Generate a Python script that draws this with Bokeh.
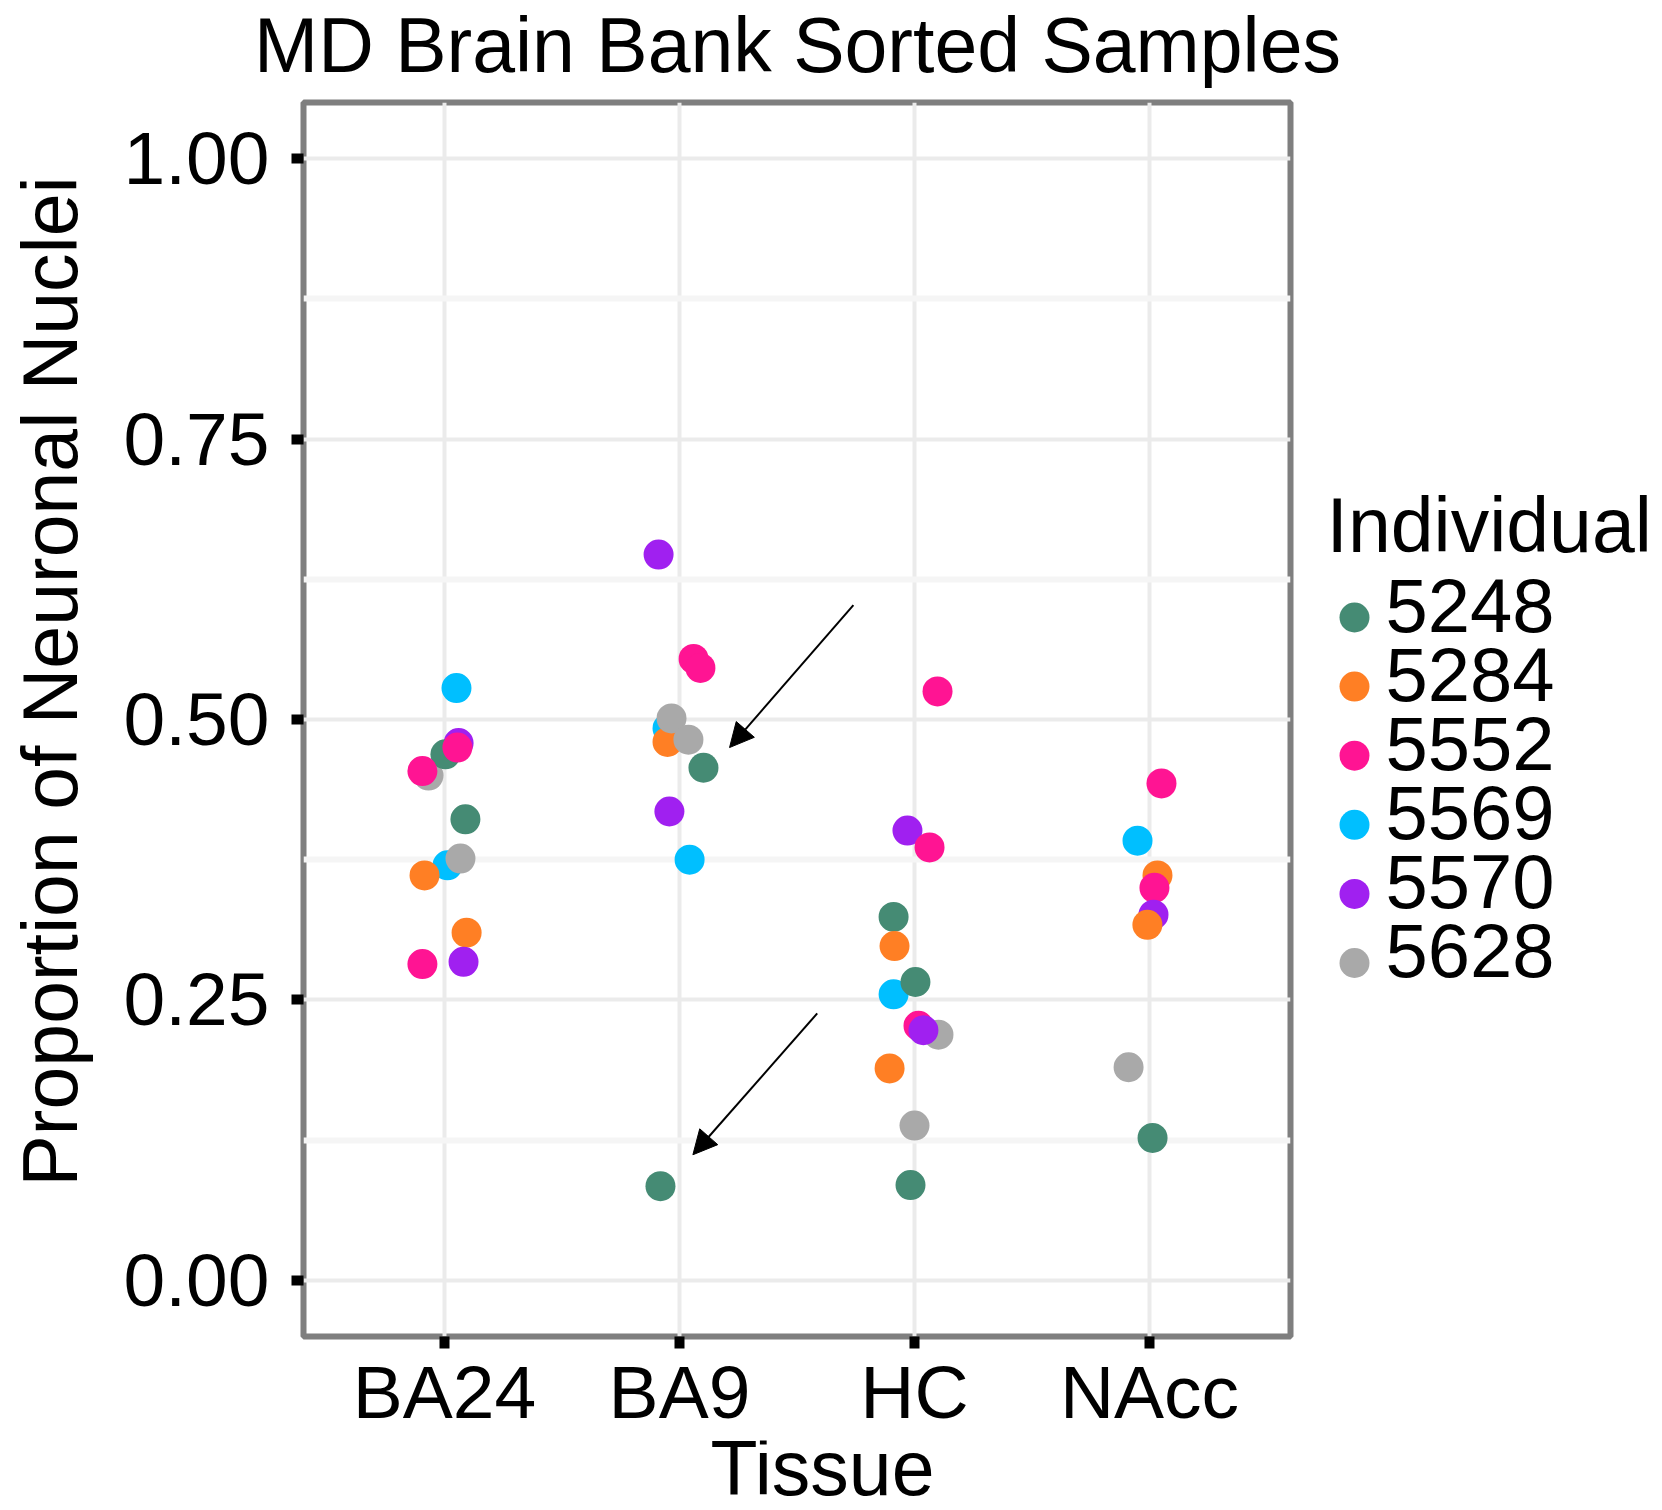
import math
from bokeh.plotting import figure
from bokeh.layouts import row, column
from bokeh.models import (Range1d, FixedTicker, NumeralTickFormatter, Arrow, NormalHead, ColumnDataSource)
from bokeh.core.properties import value
from bokeh.embed import file_html
from bokeh.resources import INLINE

# ---------------- data ----------------
tissues = ["BA24", "BA9", "HC", "NAcc"]
individuals = ["5248", "5284", "5552", "5569", "5570", "5628"]
individual_colors = ["#458B74", "#FF7F24", "#FF1493", "#00BFFF", "#A020F0", "#A9A9A9"]

point_tissue = (["BA24"] * 13 + ["BA9"] * 11 + ["HC"] * 13 + ["NAcc"] * 8)
point_individual = [
    # BA24
    "5569", "5628", "5570", "5248", "5552", "5552", "5248", "5569", "5628", "5284", "5284", "5552", "5570",
    # BA9
    "5570", "5552", "5552", "5569", "5284", "5628", "5628", "5248", "5570", "5569", "5248",
    # HC
    "5552", "5570", "5552", "5248", "5284", "5569", "5248", "5628", "5552", "5570", "5284", "5628", "5248",
    # NAcc
    "5552", "5569", "5284", "5552", "5570", "5284", "5628", "5248",
]
proportion = [
    0.528, 0.450, 0.479, 0.469, 0.475, 0.454, 0.411, 0.370, 0.376, 0.361, 0.310, 0.282, 0.284,
    0.647, 0.554, 0.546, 0.492, 0.480, 0.501, 0.482, 0.457, 0.418, 0.375, 0.084,
    0.525, 0.401, 0.386, 0.324, 0.298, 0.255, 0.266, 0.219, 0.227, 0.223, 0.189, 0.138, 0.085,
    0.443, 0.392, 0.361, 0.350, 0.326, 0.317, 0.190, 0.127,
]
jitter = [
    0.051, -0.068, 0.060, 0.004, 0.055, -0.094, 0.089, 0.013, 0.068, -0.085, 0.094, -0.094, 0.081,
    -0.089, 0.060, 0.089, -0.051, -0.051, -0.034, 0.038, 0.102, -0.043, 0.043, -0.081,
    0.098, -0.030, 0.064, -0.089, -0.085, -0.089, 0.004, 0.102, 0.017, 0.038, -0.106, 0.000, -0.017,
    0.051, -0.051, 0.034, 0.021, 0.017, -0.009, -0.089, 0.013,
]

# annotation arrows (tissue-axis units, proportion units)
arrow_x_start = [2.740, 2.586]
arrow_y_start = [0.602, 0.238]
arrow_x_end = [2.213, 2.057]
arrow_y_end = [0.475, 0.112]

y_ticks = [0.0, 0.25, 0.5, 0.75, 1.0]
y_minor = [0.125, 0.375, 0.625, 0.875]

title_text = "MD Brain Bank Sorted Samples"
x_title = "Tissue"
y_title = "Proportion of Neuronal Nuclei"
legend_title = "Individual"

# ---------------- build ----------------
FONT = "Liberation Sans"
W, H = 1662, 1510
LEFT_W, MAIN_W, LEG_W = 110, 1185, 367
TOP_H, MAIN_H, BOT_H = 97, 1343, 70
BORDER_T, BORDER_B = 5, 104                    # main plot borders
FRAME_TOP = TOP_H + BORDER_T                   # page row of the panel top
FRAME_BOT = TOP_H + MAIN_H - BORDER_B          # page row of the panel bottom
MID = 0.3465  # alphabetic baseline -> em-box middle, in em


def strip(width, height, x0, y_lo, y_hi):
    """Blank helper figure; data x = page column, data y = (H - page row)."""
    f = figure(width=width, height=height, output_backend="svg", toolbar_location=None,
               x_range=Range1d(x0, x0 + width), y_range=Range1d(y_lo, y_hi),
               x_axis_type=None, y_axis_type=None, min_border=0,
               min_border_left=0, min_border_right=0, min_border_top=0, min_border_bottom=0)
    f.outline_line_color = None
    f.grid.visible = False
    f.background_fill_color = "white"
    f.border_fill_color = "white"
    return f


def txt(fig, x, baseline, text, size, align="left", angle=0.0):
    """Text whose alphabetic baseline sits at page row `baseline` (page column if rotated)."""
    if angle:
        xs_ = [b - MID * size for b in x]
        ys_ = [H - v for v in baseline]
    else:
        xs_ = x
        ys_ = [H - (b - MID * size) for b in baseline]
    fig.text(x=xs_, y=ys_, text=text, text_font=value(FONT), text_font_size=value(f"{size}px"),
             text_align=align, text_baseline="middle", text_color="black", angle=angle)


# ---- main plot ----
tissue_pos = {t: i + 1 for i, t in enumerate(tissues)}
color_map = dict(zip(individuals, individual_colors))
xs = [tissue_pos[t] + j for t, j in zip(point_tissue, jitter)]
cols = [color_map[i] for i in point_individual]
src = ColumnDataSource(dict(x=xs, y=proportion, color=cols, ind=point_individual))

p = figure(width=MAIN_W, height=MAIN_H, output_backend="svg", toolbar_location=None,
           x_range=Range1d(0.4, 4.6), y_range=Range1d(-0.05, 1.05),
           min_border_left=193, min_border_right=5, min_border_top=BORDER_T, min_border_bottom=BORDER_B)
p.background_fill_color = "white"
p.border_fill_color = "white"
p.outline_line_color = "#7F7F7F"
p.outline_line_width = 6

p.xaxis.ticker = FixedTicker(ticks=list(range(1, len(tissues) + 1)))
p.xaxis.major_label_overrides = {i + 1: t for i, t in enumerate(tissues)}
p.yaxis.ticker = FixedTicker(ticks=y_ticks, minor_ticks=y_minor)
p.yaxis.formatter = NumeralTickFormatter(format="0.00")
for ax in (p.xaxis, p.yaxis):
    ax.axis_line_color = None
    ax.major_tick_line_color = "black"
    ax.major_tick_line_width = 10
    ax.major_tick_in = 0
    ax.major_tick_out = 12
    ax.minor_tick_line_color = None
    ax.major_label_text_font = FONT
    ax.major_label_text_font_size = "75px"
    ax.major_label_text_color = "black"
p.yaxis.major_label_standoff = 22
p.xaxis.major_label_standoff = 1

p.xgrid.grid_line_color = "#EBEBEB"
p.xgrid.grid_line_width = 4
p.ygrid.grid_line_color = "#EBEBEB"
p.ygrid.grid_line_width = 4
p.ygrid.minor_grid_line_color = "#F5F5F5"
p.ygrid.minor_grid_line_width = 6

p.scatter("x", "y", source=src, size=30, fill_color="color", line_color=None)

for xs0, ys0, xe, ye in zip(arrow_x_start, arrow_y_start, arrow_x_end, arrow_y_end):
    p.add_layout(Arrow(x_start=xs0, y_start=ys0, x_end=xe, y_end=ye, line_width=2, line_color="black",
                       end=NormalHead(size=24, fill_color="black", line_color="black")))

# ---- full-width title strip ----
top = strip(W, TOP_H, 0, H - TOP_H, H)
txt(top, [797], [71], [title_text], 77, align="center")

# ---- full-width x-title strip ----
bot = strip(W, BOT_H, 0, 0, BOT_H)
txt(bot, [822], [1494], [x_title], 77, align="center")

# ---- side strips: their frames get aligned with the main panel (page rows FRAME_TOP..FRAME_BOT) ----
left = strip(LEFT_W, MAIN_H, 0, H - FRAME_BOT, H - FRAME_TOP)
txt(left, [76], [1186], [y_title], 77, align="left", angle=math.pi / 2)

leg = strip(LEG_W, MAIN_H, LEFT_W + MAIN_W, H - FRAME_BOT, H - FRAME_TOP)
txt(leg, [1326], [551], [legend_title], 77)
row_step = 69.1
dot_rows = [617 + row_step * i for i in range(len(individuals))]
leg.scatter(x=[1354] * len(individuals), y=[H - r for r in dot_rows], size=30,
            fill_color=individual_colors, line_color=None)
txt(leg, [1385] * len(individuals), [r + 14 for r in dot_rows], individuals, 76)

layout = column(top, row(left, p, leg), bot)
open("out.html", "w").write(file_html(layout, INLINE))
